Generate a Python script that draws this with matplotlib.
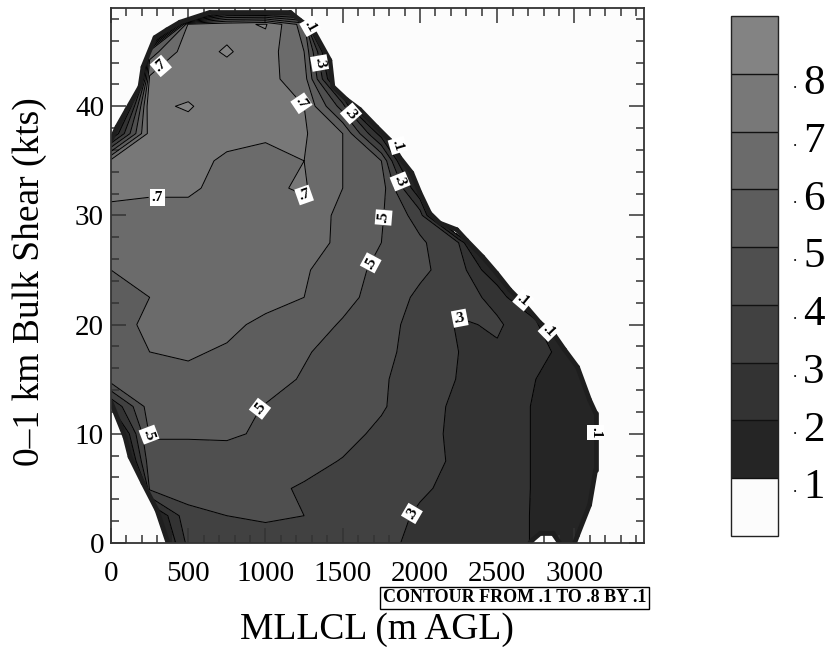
import numpy as np
import matplotlib
matplotlib.use("Agg")
import matplotlib.pyplot as plt
from matplotlib.path import Path
from matplotlib.patches import PathPatch
from matplotlib.collections import LineCollection
import matplotlib.transforms as mtransforms

# ---------------- data ----------------
mllcl = [0, 250, 500, 750, 1000, 1250, 1500, 1750, 2000, 2250, 2500, 2750, 3000, 3250, 3500]
shear = [0, 2.5, 5, 7.5, 10, 12.5, 15, 17.5, 20, 22.5, 25, 27.5, 30, 32.5, 35, 37.5, 40, 42.5, 45, 47.5, 50]
# probability field, one row per shear value (values beyond the data edge fall off steeply)
prob = [
    [0.00, -0.07, 0.33, 0.36, 0.37, 0.36, 0.35, 0.32, 0.28, 0.26, 0.25, 0.19, 0.14, 0.00, 0.00],
    [0.00, 0.04, 0.38, 0.40, 0.41, 0.40, 0.37, 0.33, 0.29, 0.27, 0.25, 0.19, 0.15, 0.05, 0.00],
    [-2.08, 0.42, 0.43, 0.43, 0.42, 0.39, 0.37, 0.34, 0.31, 0.28, 0.26, 0.19, 0.16, 0.05, 0.00],
    [-0.28, 0.46, 0.46, 0.47, 0.46, 0.43, 0.395, 0.36, 0.32, 0.29, 0.26, 0.19, 0.16, 0.05, 0.00],
    [-0.08, 0.51, 0.51, 0.51, 0.49, 0.47, 0.43, 0.38, 0.33, 0.28, 0.26, 0.19, 0.16, 0.05, 0.00],
    [0.20, 0.55, 0.55, 0.54, 0.495, 0.47, 0.45, 0.41, 0.34, 0.28, 0.26, 0.19, 0.16, 0.05, 0.00],
    [0.55, 0.57, 0.58, 0.57, 0.54, 0.49, 0.46, 0.41, 0.36, 0.295, 0.27, 0.20, 0.15, 0.00, 0.00],
    [0.57, 0.60, 0.61, 0.59, 0.56, 0.51, 0.46, 0.42, 0.37, 0.30, 0.29, 0.29, 0.07, 0.00, 0.00],
    [0.58, 0.61, 0.63, 0.62, 0.58, 0.55, 0.49, 0.43, 0.37, 0.29, 0.31, 0.25, -0.56, 0.00, 0.00],
    [0.57, 0.60, 0.64, 0.65, 0.63, 0.60, 0.53, 0.46, 0.38, 0.33, 0.28, -0.03, 0.00, 0.00, 0.00],
    [0.60, 0.62, 0.65, 0.66, 0.65, 0.61, 0.55, 0.47, 0.42, 0.35, 0.10, 0.00, 0.00, 0.00, 0.00],
    [0.64, 0.65, 0.67, 0.68, 0.68, 0.64, 0.58, 0.50, 0.42, 0.30, -0.39, 0.00, 0.00, 0.00, 0.00],
    [0.69, 0.69, 0.69, 0.69, 0.69, 0.67, 0.57, 0.51, 0.35, -0.47, 0.00, 0.00, 0.00, 0.00, 0.00],
    [0.71, 0.705, 0.705, 0.69, 0.685, 0.71, 0.60, 0.55, 0.10, 0.00, 0.00, 0.00, 0.00, 0.00, 0.00],
    [0.73, 0.73, 0.72, 0.69, 0.68, 0.70, 0.60, 0.50, -0.23, 0.00, 0.00, 0.00, 0.00, 0.00, 0.00],
    [0.07, 0.74, 0.76, 0.72, 0.71, 0.71, 0.60, 0.15, 0.00, 0.00, 0.00, 0.00, 0.00, 0.00, 0.00],
    [-0.44, 0.78, 0.81, 0.74, 0.72, 0.70, 0.35, -0.61, 0.00, 0.00, 0.00, 0.00, 0.00, 0.00, 0.00],
    [-2.00, 0.72, 0.75, 0.76, 0.73, 0.65, -0.09, 0.00, 0.00, 0.00, 0.00, 0.00, 0.00, 0.00, 0.00],
    [-4.80, 0.55, 0.76, 0.81, 0.75, 0.60, -0.26, 0.00, 0.00, 0.00, 0.00, 0.00, 0.00, 0.00, 0.00],
    [0.00, -1.15, 0.72, 0.77, 0.81, 0.55, -3.00, 0.00, 0.00, 0.00, 0.00, 0.00, 0.00, 0.00, 0.00],
    [0.00, 0.00, -2.60, -0.71, -0.76, -0.50, 0.00, 0.00, 0.00, 0.00, 0.00, 0.00, 0.00, 0.00, 0.00],
]

# outline of the region that holds data (MLLCL, shear)
domain_x = [369, 298, 207, 123, 91, 0, 0, 39, 103, 188, 207, 285, 362, 446, 640, 1160,
            1222, 1307, 1417, 1436, 1526, 1611, 1720, 1805, 1869, 1947, 1999, 2063, 2128,
            2238, 2303, 2406, 2497, 2581, 2678, 2775, 2872, 2936, 3020, 3098, 3137, 3137,
            3098, 3020, 3001, 2904, 2860, 2780, 2730, 2710]
domain_y = [0, 3.0, 5.5, 7.9, 9.7, 12.9, 36.9, 38.1, 39.7, 41.8, 43.6, 46.3, 47.0, 47.7, 48.6, 48.6,
            47.9, 47.0, 44.2, 41.8, 40.6, 39.7, 38.1, 36.9, 35.3, 33.9, 32.1, 30.2, 29.3,
            28.7, 27.7, 26.2, 24.7, 23.2, 21.8, 20.2, 19.0, 17.7, 16.1, 13.1, 11.9, 6.7,
            3.5, 0.7, 0, 0, 0.9, 0.9, 0.3, 0]

levels = [0.1, 0.2, 0.3, 0.4, 0.5, 0.6, 0.7, 0.8]
label_levels = levels[0::2]
plain_levels = levels[1::2]
x_ticks = [0, 500, 1000, 1500, 2000, 2500, 3000]
y_ticks = [0, 10, 20, 30, 40]

# ---------------- style / layout ----------------
fill_colors = ['#fcfcfc', '#252525', '#333333', '#414141', '#4f4f4f',
               '#5d5d5d', '#6b6b6b', '#787878', '#838383']
label_spots = [(1320, 47.6), (1365, 44), (1274, 40.8), (1559, 39.4), (1830, 36.3),
               (1850, 33), (1695, 29.9), (1623, 26.1), (1203, 30.2), (304, 44),
               (298, 32.3), (951, 12.4), (230, 9.9), (2270, 21.1), (2645, 21.8),
               (2700, 17.6), (3115, 10.1), (1889, 3.3)]
SERIF = ['Liberation Serif', 'DejaVu Serif']

W, H = 835, 660
fig = plt.figure(figsize=(W / 100, H / 100), dpi=100)
fig.patch.set_facecolor('white')
ax = fig.add_axes([111 / W, 117 / H, 533 / W, 535 / H])
ax.set_facecolor('#fcfcfc')

X, Y = np.meshgrid(np.array(mllcl, float), np.array(shear, float))
Z = np.array(prob, float)

clip = PathPatch(Path(np.column_stack([domain_x, domain_y])), transform=ax.transData,
                 facecolor='none', edgecolor='none')
ax.add_patch(clip)

cf = ax.contourf(X, Y, Z, levels=levels, colors=fill_colors, extend='both')
cf.set_clip_path(clip)
cs_plain = ax.contour(X, Y, Z, levels=plain_levels, colors='k', linewidths=0.7)
cs_plain.set_clip_path(clip)
cs_lab = ax.contour(X, Y, Z, levels=label_levels, colors='k', linewidths=0.7)
cs_lab.set_clip_path(clip)

# dark rim along the data edge (not along the axes)
segs = []
pts = list(zip(domain_x, domain_y))
for i in range(len(pts)):
    p, q = pts[i], pts[(i + 1) % len(pts)]
    if (p[0] == 0 and q[0] == 0) or (p[1] == 0 and q[1] == 0):
        continue
    segs.append([p, q])
ax.add_collection(LineCollection(segs, colors='#1e1e1e', linewidths=3.4,
                                 capstyle='round', joinstyle='round', zorder=3))

texts = ax.clabel(cs_lab, fmt=lambda v: ('%.1f' % v).lstrip('0'),
                  manual=label_spots, inline=True, inline_spacing=1, fontsize=11)
for t in texts:
    t.set_fontfamily(SERIF)
    t.set_fontweight('bold')
    t.set_bbox(dict(boxstyle='square,pad=0.12', fc='white', ec='none'))
    t.set_zorder(5)

ax.set_xlim(0, 3450)
ax.set_ylim(0, 49)
ax.set_xticks(x_ticks)
ax.set_xticks(np.arange(0, 3450, 100), minor=True)
ax.set_yticks(y_ticks)
ax.set_yticks(np.arange(0, 49, 2), minor=True)
ax.set_xticklabels([str(v) for v in x_ticks])
ax.set_yticklabels([str(v) for v in y_ticks])
ax.tick_params(which='both', direction='in', top=True, right=True, color='#333333', width=1.1)
ax.tick_params(which='major', length=11, labelsize=21, pad=13)
ax.tick_params(which='minor', length=6)
ax.tick_params(axis='y', which='major', pad=5)
for lab in ax.get_xticklabels() + ax.get_yticklabels():
    lab.set_fontfamily(SERIF)
for sp in ax.spines.values():
    sp.set_color('#333333')
    sp.set_linewidth(1.3)
    sp.set_zorder(6)

# colour bar
cax = fig.add_axes([731 / W, 124 / H, 47 / W, 520 / H])
cb = fig.colorbar(cf, cax=cax, extend='both', extendrect=True, extendfrac=1 / 7,
                  drawedges=True, ticks=[])
cb.outline.set_linewidth(1.0)
cb.outline.set_edgecolor('#222222')
cb.dividers.set_color('#111111')
cb.dividers.set_linewidth(1.0)
off = mtransforms.ScaledTranslation(0, -10 / 100, fig.dpi_scale_trans)
tr = mtransforms.blended_transform_factory(fig.transFigure, cax.transData) + off
for lv in levels:
    fig.text(795 / W, lv, '.', transform=tr, ha='center', va='center', fontsize=12,
             family=SERIF)
    fig.text(803 / W, lv, ('%.1f' % lv)[-1], transform=tr, ha='left', va='center',
             fontsize=31, family=SERIF)

fig.text(646 / W, 1 - 598 / H, 'CONTOUR FROM .1 TO .8 BY .1', ha='right', va='center',
         fontsize=13, family=SERIF, fontweight='bold',
         bbox=dict(boxstyle='square,pad=0.15', fc='white', ec='black', lw=1.0))
fig.text(377 / W, 1 - 630 / H, 'MLLCL (m AGL)', ha='center', va='center', fontsize=27,
         family=SERIF)
fig.text(30 / W, 1 - 282 / H, '0\u20131 km Bulk Shear (kts)', ha='center', va='center',
         rotation=90, fontsize=27, family=SERIF)

fig.savefig('out.png', dpi=100, facecolor='white')
